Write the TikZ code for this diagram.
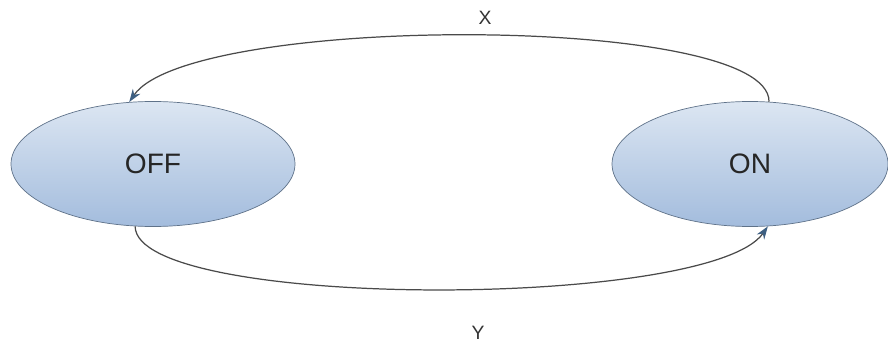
\documentclass[tikz,border=0pt]{standalone}
\usepackage{fontspec}
\setmainfont{Liberation Sans}
\usetikzlibrary{arrows.meta,positioning,shapes.geometric}
\definecolor{edgegray}{HTML}{4A4A4A}
\definecolor{tipblue}{HTML}{3D5F82}
\definecolor{rimblue}{HTML}{5F7289}
\definecolor{topblue}{HTML}{DCE6F2}
\definecolor{botblue}{HTML}{A3BCDD}
\tikzset{
  statenode/.style={ellipse,draw=rimblue,thin,top color=topblue,bottom color=botblue,
    inner sep=0pt,font=\fontsize{16}{18}\selectfont,text=black!85},
  transition/.style={draw=edgegray,line width=0.7pt,
    -{Stealth[length=2.6mm,width=1.8mm,color=tipblue]}},
  edgelabel/.style={font=\fontsize{11}{13}\selectfont,text=black!80}
}

\begin{document}
\begin{tikzpicture}
  \useasboundingbox (0,0) rectangle (17.76,6.9);

  \node[statenode,minimum width=5.68cm,minimum height=2.5cm] (off) at (3.06,3.62) {OFF};
  \node[statenode,minimum width=5.52cm,minimum height=2.5cm] (on) at (15.0,3.62) {ON};

  \draw[transition] (on.73) .. controls (15.4,6.63) and (3.8,6.63) .. (off.111);
  \draw[transition] (off.254) .. controls (2.72,0.7) and (14.2,0.7) .. (on.286);

  \node[edgelabel] (x) at (9.7,6.54) {X};
  \node[edgelabel] (y) at (9.56,0.24) {Y};
\end{tikzpicture}
\end{document}
